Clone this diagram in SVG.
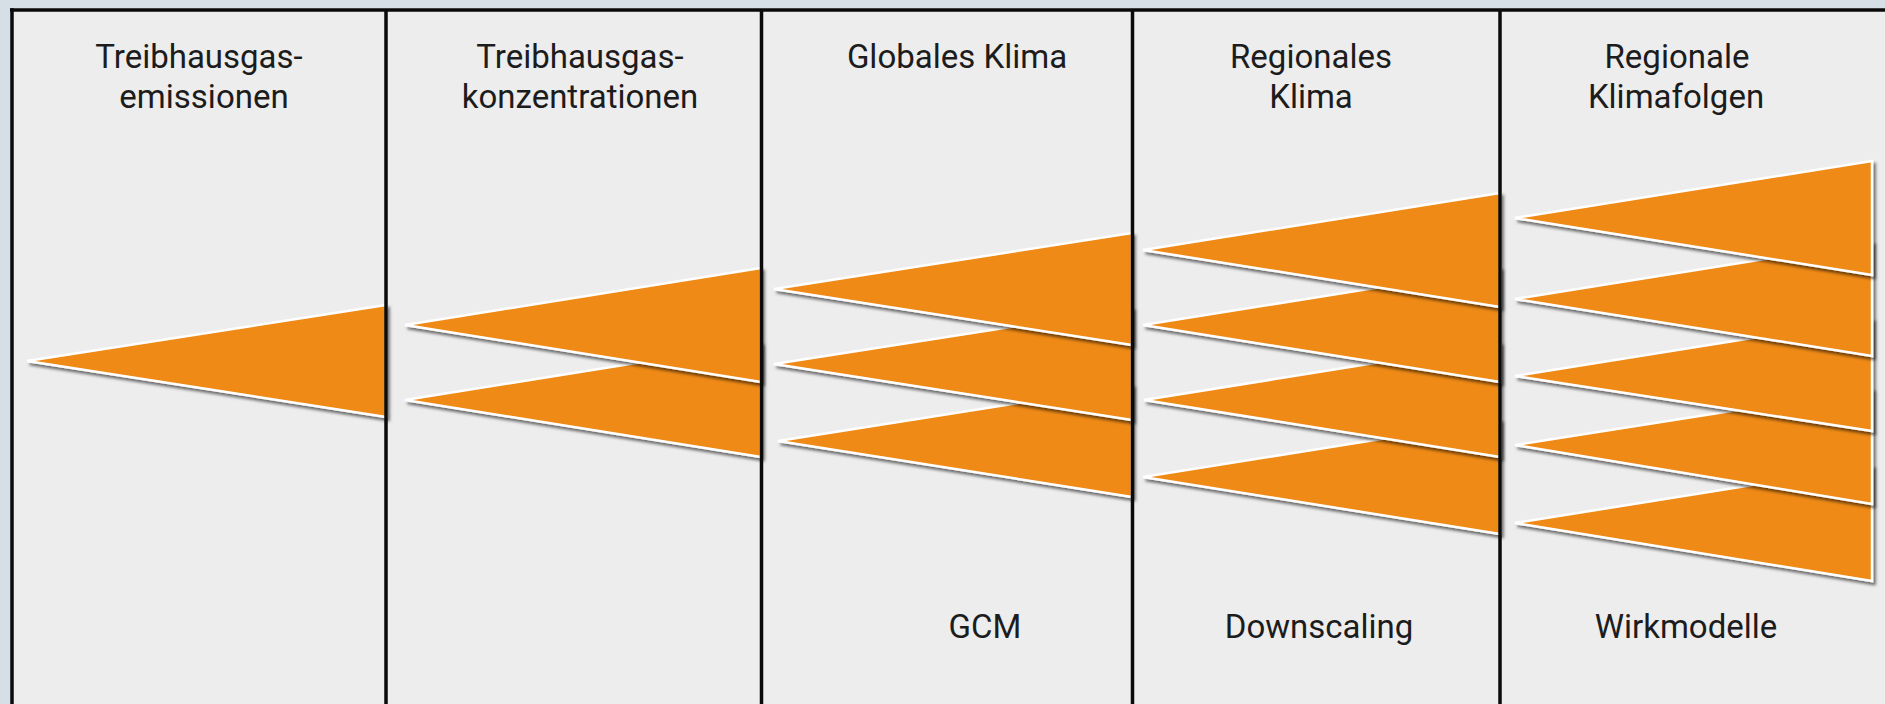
<svg xmlns="http://www.w3.org/2000/svg" width="1885" height="704" viewBox="0 0 1885 704">
  <defs>
    <filter id="shadow" x="-10%" y="-30%" width="125%" height="170%">
      <feDropShadow dx="2.5" dy="3" stdDeviation="1.6" flood-color="#000" flood-opacity="0.55"/>
    </filter>
    <style>
      .wedge { fill: #EF8A17; stroke: #ffffff; stroke-width: 2.5; stroke-linejoin: miter; filter: url(#shadow); }
      .label { font-family: Roboto, "Liberation Sans", sans-serif; font-size: 33px; fill: #1c1c1c; text-anchor: middle; }
      .rule { stroke: #0a0a0a; stroke-width: 3.5; fill: none; }
    </style>
  </defs>

  <!-- page surround and panel surface -->
  <rect x="0" y="0" width="1885" height="704" fill="#d6dee6"/>
  <rect x="12" y="10" width="1873" height="694" fill="#ededed"/>

  <!-- column 1: emissions -->
  <g id="col-emissionen">
    <text class="label" x="199" y="68">Treibhausgas-</text>
    <text class="label" x="204" y="108">emissionen</text>
    <polygon class="wedge" points="27,361 386,305 386,417"/>
  </g>

  <!-- column 2: concentrations -->
  <g id="col-konzentrationen">
    <text class="label" x="580" y="68">Treibhausgas-</text>
    <text class="label" x="580" y="108">konzentrationen</text>
    <polygon class="wedge" points="405,400 761,343 761,457"/>
    <polygon class="wedge" points="405,325 761,268 761,382"/>
  </g>

  <!-- column 3: global climate -->
  <g id="col-globales-klima">
    <text class="label" x="957" y="68">Globales Klima</text>
    <text class="label" x="985" y="638">GCM</text>
    <polygon class="wedge" points="778,441 1132,385 1132,497"/>
    <polygon class="wedge" points="774,364 1132,308 1132,420"/>
    <polygon class="wedge" points="774,289 1132,233 1132,345"/>
  </g>

  <!-- column 4: regional climate -->
  <g id="col-regionales-klima">
    <text class="label" x="1311" y="68">Regionales</text>
    <text class="label" x="1311" y="108">Klima</text>
    <text class="label" x="1319" y="638">Downscaling</text>
    <polygon class="wedge" points="1143,477 1500,420 1500,534"/>
    <polygon class="wedge" points="1144,400 1500,343 1500,457"/>
    <polygon class="wedge" points="1143,325 1500,268 1500,382"/>
    <polygon class="wedge" points="1143,250 1500,193 1500,307"/>
  </g>

  <!-- column 5: regional impacts -->
  <g id="col-klimafolgen">
    <text class="label" x="1677" y="68">Regionale</text>
    <text class="label" x="1676" y="108">Klimafolgen</text>
    <text class="label" x="1686" y="638">Wirkmodelle</text>
    <polygon class="wedge" points="1515,523 1872,466 1872,581"/>
    <polygon class="wedge" points="1515,445 1872,389 1872,504"/>
    <polygon class="wedge" points="1515,376 1872,319 1872,431"/>
    <polygon class="wedge" points="1515,299 1872,242 1872,356"/>
    <polygon class="wedge" points="1515,218 1872,161 1872,275"/>
  </g>

  <!-- frame and column rules, drawn over the wedges -->
  <g id="frame">
    <line class="rule" x1="10" y1="10" x2="1885" y2="10"/>
    <line class="rule" x1="12" y1="8.3" x2="12" y2="704"/>
    <line class="rule" x1="386" y1="10" x2="386" y2="704"/>
    <line class="rule" x1="761.5" y1="10" x2="761.5" y2="704"/>
    <line class="rule" x1="1132.5" y1="10" x2="1132.5" y2="704"/>
    <line class="rule" x1="1500" y1="10" x2="1500" y2="704"/>
  </g>
</svg>
